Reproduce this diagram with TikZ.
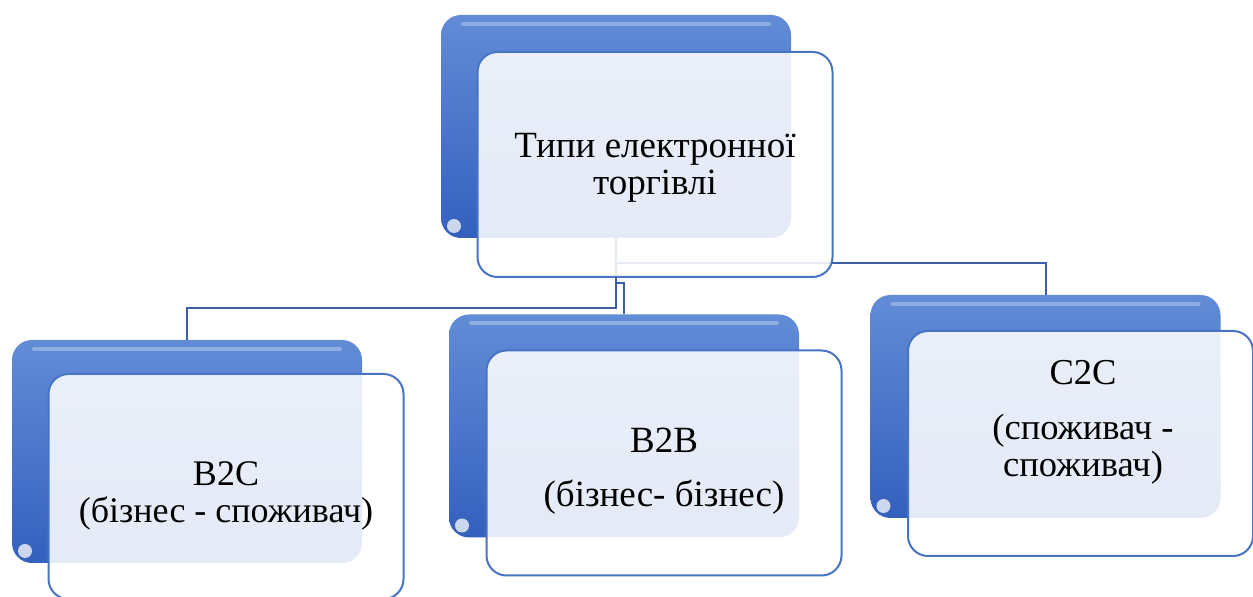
\documentclass[tikz,border=0pt]{standalone}
\usepackage{fontspec}
\setmainfont{Liberation Serif}
\usetikzlibrary{
	backgrounds,
	positioning
}
\definecolor{BoxLight}{RGB}{98,140,214}
\definecolor{BoxDark}{RGB}{52,96,190}
\definecolor{FrameBlue}{RGB}{72,116,196}
\definecolor{LinkBlue}{RGB}{60,94,166}

\begin{document}
\begin{tikzpicture}[x=1pt, y=1pt,
	backbox/.style={rectangle, rounded corners=20pt, minimum width=350pt, minimum height=223pt, inner sep=0pt,
		top color=BoxLight, bottom color=BoxDark,
		path picture={
			\draw[white, opacity=0.3, line width=4pt, line cap=round] ([shift={(22pt,-9pt)}]path picture bounding box.north west) -- ([shift={(-22pt,-9pt)}]path picture bounding box.north east);
			\fill[white, opacity=0.75] ([shift={(13pt,12pt)}]path picture bounding box.south west) circle (7pt);
		}},
	frontbox/.style={rectangle, rounded corners=20pt, minimum width=355pt, minimum height=225pt, inner sep=0pt,
		draw=FrameBlue, line width=2pt, fill=white, fill opacity=0.87},
	boxtext/.style={align=center, text=black, inner sep=0pt},
	link/.style={draw=LinkBlue, line width=2pt}
]
	\useasboundingbox (0,0) rectangle (1253,597);
	% back boxes
	\node[backbox] (tb) at (616,470.5) {};
	\node[backbox] (lb) at (187,145.5) {};
	\node[backbox] (mb) at (624,171) {};
	\node[backbox] (rb) at (1045.5,190.5) {};
	% front boxes
	\node[frontbox] (tf) at ([shift={(39pt,-38pt)}]tb.center) {};
	\node[frontbox] (lf) at ([shift={(39pt,-35pt)}]lb.center) {};
	\node[frontbox] (mf) at ([shift={(40pt,-37pt)}]mb.center) {};
	\node[frontbox, minimum width=345pt] (rf) at ([shift={(35pt,-37pt)}]rb.center) {};
	% texts
	\node[boxtext, font=\fontsize{37}{37}\selectfont] (tt) at (655,429) {Типи електронної\\торгівлі};
	\node[boxtext, font=\fontsize{36}{37}\selectfont] (lt) at (226,101) {B2C\\(бізнес - споживач)};
	\node[boxtext, font=\fontsize{37}{42}\selectfont] (mt) at (664,126) {B2B\\[12pt](бізнес- бізнес)};
	\node[boxtext, font=\fontsize{36.5}{37}\selectfont] (rt) at (1083,175) {C2C\\[18pt](споживач -\\споживач)};
	% connectors
	\begin{scope}[on background layer]
		\draw[link] (tb.south) -- ++(0,-70) -| (lb.north);
		\draw[link] (tb.south) -- ++(0,-45) -| (mb.north);
		\draw[link] (tb.south) -- ++(0,-25) -| (rb.north);
	\end{scope}
\end{tikzpicture}
\end{document}
